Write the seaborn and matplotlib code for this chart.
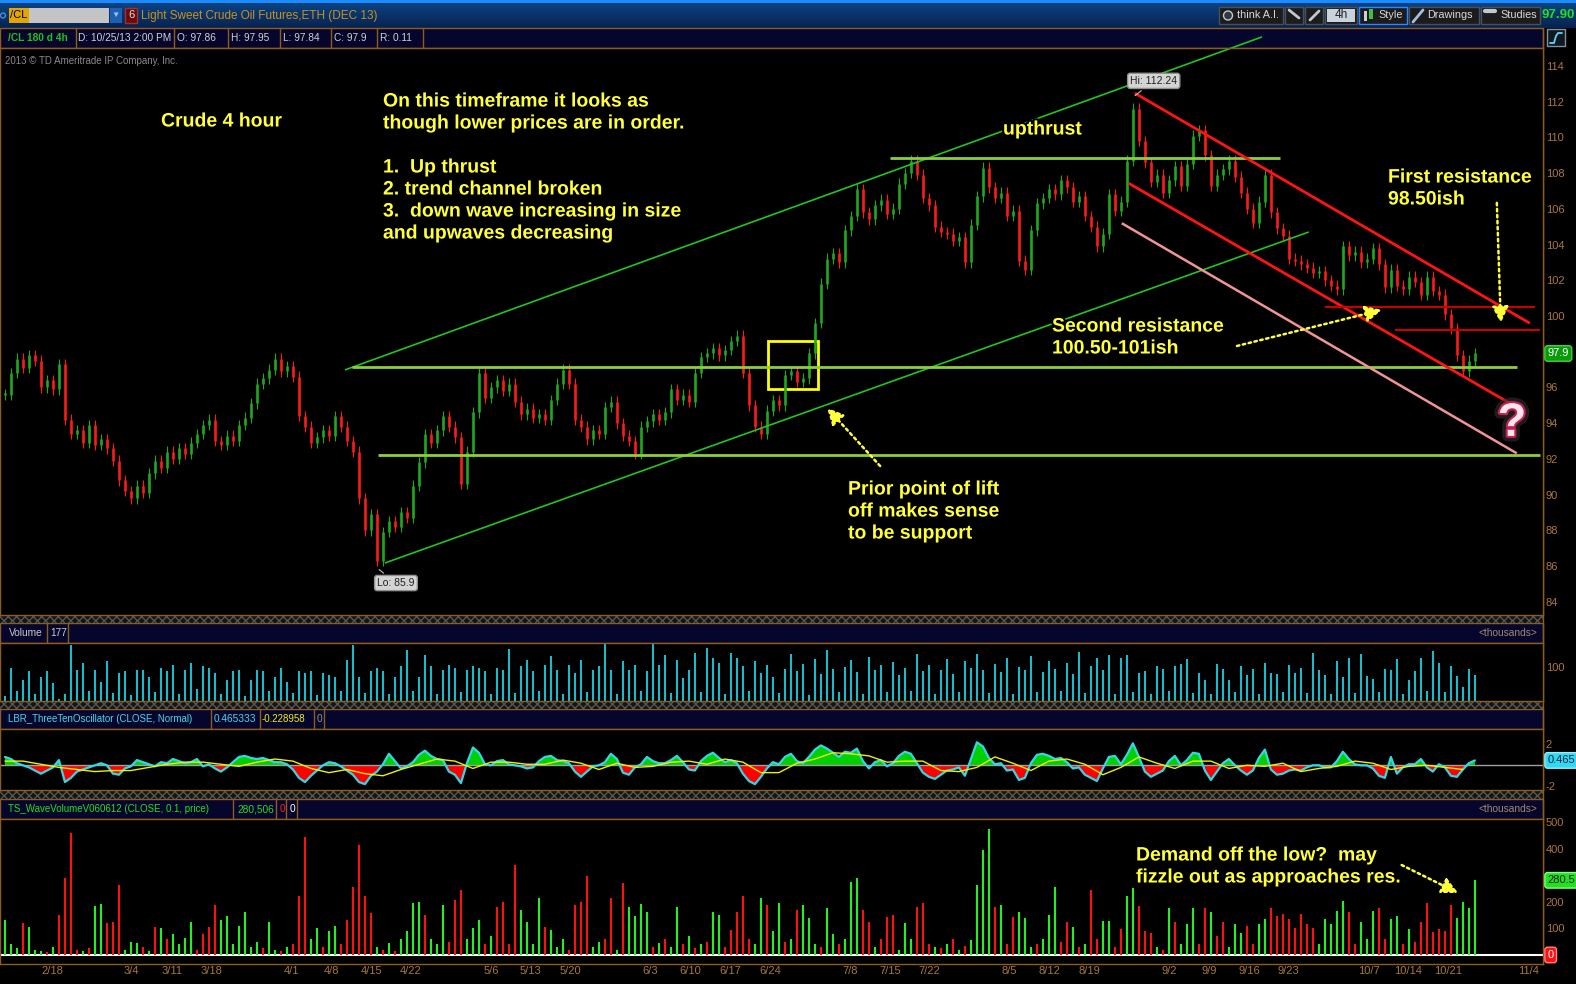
import numpy as np
import pandas as pd
import matplotlib
matplotlib.use("Agg")
import matplotlib.pyplot as plt
import matplotlib.patheffects as pe
from matplotlib.patches import Rectangle, Circle
from matplotlib.colors import LinearSegmentedColormap
import seaborn as sns

# ---- values (one bar ~ one trading day) ----
close = [
    95.6, 96.8, 97.6, 97.1, 97.8, 97.5, 96.0, 96.4, 95.9, 97.3,
    94.2, 93.4, 93.6, 92.9, 93.9, 92.8, 93.1, 92.6, 91.9, 90.8,
    90.2, 89.8, 90.5, 90.1, 91.2, 91.9, 91.5, 92.4, 92.0, 92.6,
    92.3, 92.9, 93.4, 93.9, 94.2, 93.0, 92.8, 93.3, 93.0, 93.9,
    94.3, 95.1, 96.2, 96.5, 97.0, 97.6, 96.9, 97.2, 96.6, 94.4,
    93.8, 92.9, 93.2, 93.6, 93.3, 94.4, 93.8, 93.0, 92.4, 89.8,
    88.0, 88.9, 86.3, 87.9, 88.5, 88.2, 89.0, 88.7, 90.5, 91.8,
    93.4, 92.9, 93.6, 94.4, 93.8, 93.2, 90.6, 92.4, 94.6, 96.8,
    95.4, 96.0, 96.4, 95.8, 96.2, 95.2, 94.5, 94.8, 94.3, 94.5,
    94.2, 95.3, 96.2, 97.0, 96.2, 94.2, 93.8, 93.1, 93.6, 93.4,
    94.9, 95.2, 94.0, 93.3, 93.0, 92.3, 93.8, 94.1, 94.5, 94.2,
    94.6, 95.9, 95.3, 95.6, 95.2, 96.8, 97.7, 97.9, 98.2, 97.8,
    98.1, 98.6, 98.9, 96.8, 95.0, 93.8, 93.4, 94.7, 95.3, 95.0,
    96.7, 96.9, 96.3, 96.5, 97.9, 99.6, 101.8, 103.2, 103.5, 103.0,
    104.8, 105.6, 107.1, 105.8, 105.4, 106.2, 106.5, 105.7, 106.0, 107.4,
    108.0, 108.7, 107.9, 106.6, 106.2, 105.0, 104.7, 104.6, 104.2, 104.4,
    103.0, 105.1, 106.7, 108.3, 107.2, 106.6, 106.9, 105.6, 105.9, 103.1,
    102.6, 104.8, 106.3, 106.6, 107.1, 106.8, 107.6, 107.2, 106.4, 106.7,
    105.6, 105.0, 103.9, 104.6, 106.8, 105.9, 106.4, 108.7, 111.6, 109.8,
    108.6, 107.5, 107.9, 106.9, 107.6, 108.4, 107.3, 108.5, 110.1, 110.4,
    109.0, 107.3, 107.9, 108.2, 108.7, 107.8, 106.9, 106.0, 105.2, 106.4,
    107.9, 105.8, 104.9, 104.5, 103.2, 103.1, 102.9, 102.7, 102.4, 102.5,
    102.0, 101.7, 101.5, 103.9, 103.4, 103.6, 103.0, 103.2, 103.8, 102.9,
    101.6, 102.6, 101.7, 101.5, 102.2, 101.9, 101.2, 102.2, 101.4, 101.2,
    100.1, 99.3, 97.8, 96.9, 97.5, 97.9,
]

# volume in thousands
volume = [
    15, 97, 30, 62, 87, 20, 72, 87, 52, 7, 22, 165, 92, 112, 30, 92, 57, 117, 25, 82, 87, 18, 92, 92, 72, 28, 97, 87, 107, 20,
    92, 112, 35, 102, 97, 82, 22, 62, 87, 92, 15, 62, 90, 87, 30, 72, 97, 57, 24, 87, 84, 87, 18, 82, 77, 72, 30, 122, 165, 72,
    25, 87, 97, 87, 20, 72, 102, 150, 30, 72, 137, 102, 22, 92, 107, 97, 28, 92, 102, 97, 87, 20, 97, 92, 152, 25, 102, 122, 87, 30,
    107, 132, 92, 22, 107, 82, 122, 26, 90, 102, 167, 92, 20, 117, 92, 107, 30, 87, 172, 107, 137, 24, 122, 67, 92, 142, 28, 157, 127, 112,
    20, 142, 127, 102, 30, 117, 82, 107, 72, 25, 95, 140, 88, 110, 18, 125, 80, 150, 95, 28, 100, 120, 85, 22, 130, 90, 105, 26, 115, 78,
    98, 30, 140, 88, 105, 22, 92, 125, 80, 27, 118, 97, 140, 90, 24, 110, 85, 128, 20, 100, 92, 132, 26, 85, 118, 95, 30, 112, 80, 145,
    25, 102, 128, 90, 135, 22, 128, 135, 26, 83, 88, 20, 103, 93, 30, 103, 108, 125, 24, 83, 63, 20, 108, 93, 63, 28, 103, 78, 95, 22,
    111, 83, 81, 27, 105, 83, 98, 25, 141, 91, 78, 20, 118, 70, 128, 24, 138, 73, 66, 28, 95, 91, 123, 22, 63, 88, 128, 30, 148, 113,
    26, 102, 75, 40, 95, 78,
]

# wave volume in thousands: positive = up wave (green), negative = down wave (red)
wave_volume = [
    130, 40, 25, -120, 105, 20, 15, -10, 30, -150,
    -290, -457, -20, 15, -25, 185, 190, -120, -125, -263,
    20, 50, 44, -30, 15, -106, 100, -60, 80, 40,
    65, 125, -20, -80, -105, -188, 130, 145, 40, 110,
    163, 30, 50, -25, 125, 20, -15, 30, -40, -220,
    -445, 60, 100, -30, 90, 110, -40, -130, -257, -415,
    -220, -156, 30, -20, 45, -15, 60, 90, 194, 200,
    -150, 60, 40, 188, -50, -207, -245, 60, 100, 130,
    -40, 70, -182, -200, -40, -338, 170, 125, 40, 213,
    -106, 94, 30, 60, -20, -188, -200, -295, 30, 50,
    -60, -213, 20, -270, 182, 145, 190, 163, -30, 45,
    -60, 30, 182, -40, 70, -25, 40, -50, 163, 150,
    -30, -94, -163, -220, -60, 40, 213, -188, 90, 194,
    -50, 60, -170, 188, 138, 40, -30, 175, 80, -40,
    60, 276, 288, -170, -125, 30, -60, -144, -150, 20,
    119, 60, -182, -194, -40, 30, -25, 40, -60, 20,
    -35, 56, 263, 395, 472, -182, 188, -40, -144, 163,
    138, 30, -40, 60, 150, 257, -50, -125, 106, -30,
    40, -245, -60, 128, 128, -30, -96, 223, 251, -185,
    -90, -84, 30, -20, 175, -122, 40, 115, 178, -40,
    -178, 160, -70, -122, 30, 115, 83, -108, -40, 115,
    134, -178, -147, -153, -134, -103, -153, -115, -103, 40,
    134, 115, 166, 204, -160, -40, 122, 60, 166, -178,
    -60, 134, 147, -40, 96, -50, -122, -195, -85, -96,
    -90, -187, 140, 200, 178, 280.5,
]

# LBR 3/10 oscillator (cyan) per bar
osc_310 = [
    0.8, 0.6, 0.2, 0.0, -0.2, -0.5, -0.8, -0.5, -0.2, 0.5,
    -1.6, -1.2, -0.6, -0.4, -0.2, 0.0, 0.2, 0.0, -0.8, -0.9,
    -0.3, -0.1, 0.5, 0.3, 0.1, -0.1, 0.3, 0.2, 0.6, 0.4,
    0.2, 0.3, 0.6, -0.1, 0.1, -0.3, -0.6, -0.2, 0.3, 0.8,
    0.9, 0.7, 0.6, 0.7, 0.5, 0.3, 0.3, 0.1, -0.4, -1.2,
    -1.6, -1.0, -0.5, 0.0, 0.3, 0.2, -0.1, -0.5, -0.9, -1.6,
    -1.8, -1.0, -0.6, 0.1, 1.1, 0.4, -0.3, -0.1, 0.3, 1.0,
    1.4, 0.9, 0.6, 0.5, -0.6, -0.9, -1.7, 0.2, 1.7, 1.2,
    0.1, 0.0, 0.4, 0.5, 0.1, 0.0, -0.1, -0.3, -0.2, 0.4,
    0.8, 0.9, 0.5, 0.4, 0.2, -0.6, -1.1, -0.6, -0.1, 0.0,
    0.3, 1.1, 0.6, -0.7, -0.9, -0.2, 0.1, 0.8, 0.4, 0.2,
    0.2, 0.5, 0.9, 0.3, -0.4, -0.5, 0.4, 0.9, 1.2, 0.7,
    0.3, 0.5, 0.2, -0.8, -1.5, -1.8, -1.1, -0.3, 0.3, 0.1,
    0.8, 1.1, 0.4, 0.2, 0.8, 1.5, 1.9, 1.6, 1.2, 0.8,
    1.3, 1.2, 1.6, 0.4, -0.3, 0.3, 0.5, -0.1, 0.2, 0.9,
    1.3, 1.1, 0.2, -0.7, -1.1, -1.3, -0.9, -0.5, -0.4, -0.2,
    -1.0, 0.6, 2.2, 1.8, 0.7, 0.1, 0.2, -0.5, -0.4, -1.4,
    -1.2, 0.2, 1.0, 1.1, 0.9, 0.6, 0.7, 0.3, -0.3, -0.2,
    -0.9, -1.2, -1.5, -0.3, 0.8, 0.9, 0.1, 1.0, 2.1, 0.8,
    -0.6, -1.1, -0.8, -0.5, 0.4, 0.9, 0.0, 0.5, 1.2, 1.1,
    -0.5, -1.4, -0.6, 0.2, 0.6, 0.0, -0.5, -0.9, -0.5, 0.7,
    1.5, -0.4, -0.9, -0.8, -0.5, -0.4, -0.5, -0.2, 0.0, 0.0,
    -0.2, -0.2, 0.4, 1.3, 0.6, 0.1, 0.0, 0.0, -0.3, -1.0,
    -1.2, 0.8, -0.8, -0.2, 0.1, 0.1, 0.6, -0.2, -0.6, 0.1,
    -0.2, -1.0, -1.1, -0.4, 0.2, 0.465,
]

# yellow signal line, read every third bar
osc_signal = [
    0.4, 0.4, 0.1, -0.2, -0.4, -0.6, -0.5, -0.5, -0.2, 0.1,
    0.3, 0.3, 0.1, -0.1, 0.3, 0.6, 0.4, -0.3, -0.7, -0.4,
    -0.8, -1.0, -0.4, 0.1, 0.6, 0.4, -0.3, 0.3, 0.3, 0.1,
    0.1, 0.5, 0.2, -0.4, 0.2, -0.2, -0.1, 0.3, 0.4, 0.1,
    0.6, 0.3, -0.7, -0.7, 0.2, 0.6, 1.2, 1.1, 0.9, 0.3,
    0.4, 0.4, -0.5, -0.6, -0.2, 0.8, 0.2, -0.5, 0.4, 0.6,
    0.1, -0.9, -0.2, 0.8, 0.2, -0.3, 0.4, 0.4, -0.3, 0.0,
    -0.1, 0.2, -0.6, -0.3, -0.1, 0.4, 0.2, -0.4, -0.1, 0.0,
    -0.2, -0.4,
]

date_labels = ["2/18", "3/4", "3/11", "3/18", "4/1", "4/8", "4/15", "4/22", "5/6", "5/13",
               "5/20", "6/3", "6/10", "6/17", "6/24", "7/8", "7/15", "7/22", "8/5", "8/12",
               "8/19", "9/2", "9/9", "9/16", "9/23", "10/7", "10/14", "10/21", "11/4"]
price_ticks = [84, 86, 88, 90, 92, 94, 96, 100, 102, 104, 106, 108, 110, 112, 114]
wave_ticks = [100, 200, 400, 500]
hi_price = 112.24
lo_price = 85.9
last_price = 97.9
last_osc = 0.465
last_wave = 280.5

# time axis in days since 2/18/13
first_day, last_day = -8.25, 249.65
x_min, x_max = -9.12, 261.6

sns.set_theme(style="dark", rc={"axes.facecolor": "black", "figure.facecolor": "black"})
plt.rcParams['font.family'] = ['Liberation Sans', 'DejaVu Sans']

W, H = 1576, 984
BROWN = '#8c5c20'
NAVY = '#06062c'
TICK = '#a8783c'
YEL = '#ffff3a'
HDR = 7.3


def frac(l, t, r, b):
    return [l / W, 1 - b / H, (r - l) / W, (b - t) / H]


fig = plt.figure(figsize=(W / 100, H / 100), dpi=100)
fig.patch.set_facecolor('black')

# ---- window chrome, drawn in pixel coordinates ----
bg = fig.add_axes([0, 0, 1, 1], zorder=0)
grad = np.linspace(0, 1, 28).reshape(-1, 1)
bar_cmap = LinearSegmentedColormap.from_list('bar', ['#0e4688', '#072350'])
bg.imshow(grad, extent=(0, W, 28, 0), cmap=bar_cmap, aspect='auto', origin='upper')
bg.set_xlim(0, W)
bg.set_ylim(H, 0)
bg.axis('off')


def rect(x0, y0, x1, y1, fc, ec='none', lw=1.0, **kw):
    bg.add_patch(Rectangle((x0, y0), x1 - x0, y1 - y0, fc=fc, ec=ec, lw=lw, **kw))


def label(x, y, s, color='#d0d0d0', size=HDR, **kw):
    bg.text(x, y, s, color=color, fontsize=size, va='center', **kw)


rect(0, 0, W, 3, '#1a8cff')
bg.add_patch(Circle((3, 15.5), 2.5, fc='none', ec='#4a8ad0', lw=1))
rect(9, 8, 29, 23, '#e3a600')
label(10, 15.5, "/CL", color='black', size=8)
rect(29, 8, 109, 23, '#c4c4c4')
rect(110, 8, 122, 23, '#1f5fb0')
label(111.5, 15.5, "▼", color='#8fc8ff', size=6)
rect(125, 8, 137, 23, '#6a0a0a', ec='#a03030')
label(128, 15.5, "6", color='#e0e0e0', size=8)
label(141, 15.5, "Light Sweet Crude Oil Futures,ETH (DEC 13)", color='#c8921e', size=8.5)

buttons = [(1219, 1283, "think A.I.", 1237), (1285, 1303, "", 0), (1305, 1323, "", 0),
           (1325, 1357, "", 0), (1359, 1407, "Style", 1378), (1409, 1479, "Drawings", 1427),
           (1481, 1540, "Studies", 1500)]
for x0, x1, txt, tx in buttons:
    rect(x0, 7, x1, 24, '#1c1c1c', ec='#2f86ff' if txt == "Style" else '#4a4f58', lw=1)
    if txt:
        label(tx, 15.5, txt, color='#d8d8d8', size=7.8)
bg.add_patch(Circle((1228, 15.5), 4.5, fc='#303840', ec='#c0c8d0', lw=1))
rect(1327, 9, 1355, 22, '#c9d3dc')
label(1341, 15.5, "4h", color='#202020', size=8.5, ha='center')
rect(1364, 11, 1367, 21, '#d0d0d0')
rect(1369, 9, 1373, 19, '#40c040')
bg.plot([1413, 1423], [22, 10], color='#a0c0e0', lw=2)
bg.plot([1289, 1299], [10, 18], color='#c0c8d0', lw=2)
bg.plot([1310, 1319], [20, 11], color='#c0c8d0', lw=2)
bg.plot([1485, 1495], [11, 11], color='#c0c8d0', lw=3)
label(1542, 15.5, "97.90", color='#20e020', size=9.5, fontweight='bold')

# header row of the price panel
rect(0, 28, 1543, 48, NAVY, ec=BROWN)
for bx in [76, 174, 228, 280, 331, 377, 423]:
    bg.plot([bx, bx], [28, 48], color=BROWN, lw=1)
label(8, 38, "/CL 180 d 4h", color='#20c020', fontweight='bold')
for hx, htxt in [(78, "D: 10/25/13 2:00 PM"), (177, "O: 97.86"), (231, "H: 97.95"),
                 (283, "L: 97.84"), (334, "C: 97.9"), (380, "R: 0.11")]:
    label(hx, 38, htxt)
rect(1547, 29, 1565, 46, '#101820', ec='#8090a0')
bg.plot([1550, 1554, 1556, 1558, 1562], [43, 43, 36, 33, 33], color='#60d0ff', lw=1.3)

# study headers
rect(0, 623, 1543, 643, NAVY, ec=BROWN)
for bx in [47, 68]:
    bg.plot([bx, bx], [623, 643], color=BROWN, lw=1)
label(9, 633, "Volume", color='#c8c8c8')
label(50, 633, "177", color='#c8c8c8')
label(1537, 633, "<thousands>", color='#a08a70', ha='right')

rect(0, 709, 1543, 729, NAVY, ec=BROWN)
for bx in [211, 260, 314, 324]:
    bg.plot([bx, bx], [709, 729], color=BROWN, lw=1)
label(8, 719, "LBR_ThreeTenOscillator (CLOSE, Normal)", color='#40d8f0', size=7)
label(214, 719, "0.465333", color='#40d8f0')
label(262, 719, "-0.228958", color='#f0f000', size=7)
label(317, 719, "0", color='#909090')

rect(0, 799, 1543, 819, NAVY, ec=BROWN)
for bx in [233, 276, 286, 297]:
    bg.plot([bx, bx], [799, 819], color=BROWN, lw=1)
label(8, 809, "TS_WaveVolumeV060612 (CLOSE, 0.1, price)", color='#20e020', size=7)
label(237, 809, "280,506", color='#20e020')
label(280, 809, "0", color='#ff2020')
label(290, 809, "0", color='#ffffff')
label(1537, 809, "<thousands>", color='#a08a70', ha='right')

for y0, y1 in [(615, 623), (701, 709), (790, 799)]:
    rect(0, y0, 1543, y1, '#151515', ec='#555555', lw=0, hatch='xxxx')
bg.plot([1543, 1543], [28, 964], color=BROWN, lw=1)


# ---- data panels ----
def style_panel(ax, ylim, yticks):
    ax.set_facecolor('black')
    ax.set_xlim(x_min, x_max)
    ax.set_ylim(*ylim)
    ax.yaxis.tick_right()
    ax.set_yticks(yticks)
    ax.set_yticklabels([str(v) for v in yticks])
    ax.set_xticks([])
    ax.tick_params(axis='y', length=0, pad=2, labelsize=8, labelcolor=TICK)
    ax.grid(False)
    for s in ax.spines.values():
        s.set_color(BROWN)
        s.set_linewidth(1)


def tag(ax, y, txt, fc, tc, ec):
    ax.text(1.003, y, txt, transform=ax.get_yaxis_transform(), ha='left', va='center',
            fontsize=8, color=tc, clip_on=False,
            bbox=dict(boxstyle='round,pad=0.25', fc=fc, ec=ec, lw=1))


bar_x = np.linspace(first_day, last_day, len(close))
c = np.array(close)
o = np.r_[c[0], c[:-1]]
cols = np.where(c >= o, '#1fa81f', '#ff1a1a')
body_lo = np.minimum(o, c)
body_hi = np.maximum(o, c)

ax_p = fig.add_axes(frac(0, 48, 1543, 615), zorder=2)
style_panel(ax_p, (83.26, 115.0), price_ticks)
ax_p.vlines(bar_x, body_lo - 0.3, body_hi + 0.3, colors=cols, lw=0.8)
ax_p.vlines(bar_x, body_lo, np.maximum(body_hi, body_lo + 0.08), colors=cols, lw=1.9)

trend_lines = [
    ((51.4, 96.98), (212.3, 115.62), '#22c422', 1.2, False),
    ((58.4, 86.17), (220.5, 104.70), '#22c422', 1.2, True),
    ((52.6, 97.15), (257.0, 97.15), '#8ccf3c', 2.0, True),
    ((57.2, 92.22), (261.0, 92.22), '#8ccf3c', 2.0, True),
    ((147.0, 108.85), (215.4, 108.85), '#8ccf3c', 2.0, True),
    ((190.0, 112.47), (259.3, 99.59), '#ff1414', 2.0, True),
    ((188.9, 107.43), (256.3, 95.02), '#ff1414', 2.0, True),
    ((187.7, 105.19), (257.0, 92.31), '#f09494', 1.8, True),
    ((223.3, 100.51), (260.2, 100.51), '#c80000', 1.5, True),
    ((235.6, 99.22), (261.0, 99.22), '#c80000', 1.5, True),
]
for (x0, y0), (x1, y1), col, lw, clip in trend_lines:
    ax_p.plot([x0, x1], [y0, y1], color=col, lw=lw, clip_on=clip, solid_capstyle='butt')
ax_p.add_patch(Rectangle((125.6, 95.9), 8.8, 2.7, fill=False, ec='#ffff00', lw=2))

arrow_kw = dict(arrowstyle='-|>,head_length=0.7,head_width=0.35', color=YEL, lw=1.8,
                linestyle=(0, (1, 1.4)), mutation_scale=14, shrinkA=0, shrinkB=0)
for tail, head in [((145.3, 91.6), (136.0, 94.85)), ((207.9, 98.32), (233.3, 100.34)),
                   ((253.5, 106.33), (254.2, 99.61))]:
    ax_p.annotate("", xy=head, xytext=tail, arrowprops=arrow_kw)

imax = int(np.argmax(c))
imin = int(np.argmin(c))
box_kw = dict(boxstyle='round,pad=0.25', fc='#d4d4d4', ec='#909090')
ax_p.annotate(f"Hi: {hi_price}", xy=(bar_x[imax], hi_price), xytext=(193.3, 113.16),
              ha='center', va='center', fontsize=7.5, color='#202020', bbox=box_kw,
              arrowprops=dict(arrowstyle='-', color='#c0c0c0', lw=0.8))
ax_p.annotate(f"Lo: {lo_price}", xy=(bar_x[imin], lo_price), xytext=(60.35, 85.05),
              ha='center', va='center', fontsize=7.5, color='#202020', bbox=box_kw,
              arrowprops=dict(arrowstyle='-', color='#c0c0c0', lw=0.8))
tag(ax_p, last_price, f"{last_price}", '#0a9a0a', 'white', '#40d040')

# volume
ax_v = fig.add_axes(frac(0, 643, 1543, 701), zorder=2)
style_panel(ax_v, (0, 171), [100])
ax_v.vlines(bar_x, 0, volume, colors='#16e4f8', lw=1.2)

# 3/10 oscillator
osc = np.array(osc_310)
ax_o = fig.add_axes(frac(0, 729, 1543, 790), zorder=2)
style_panel(ax_o, (-2.36, 3.47), [-2, 2])
ax_o.axhline(0, color='#a0a0a0', lw=1)
ax_o.fill_between(bar_x, osc, 0, where=osc >= 0, interpolate=True, color='#00d000', lw=0)
ax_o.fill_between(bar_x, osc, 0, where=osc <= 0, interpolate=True, color='#ff0000', lw=0)
sns.lineplot(x=bar_x, y=osc, ax=ax_o, color='#30d8e8', lw=1.6)
sns.lineplot(x=bar_x[::3], y=osc_signal, ax=ax_o, color='#f0f000', lw=1.0)
ax_o.set_xlim(x_min, x_max)
ax_o.set_xticks([])
tag(ax_o, last_osc, f"{last_osc}", '#30d8f0', '#00204a', '#90f0ff')

# wave volume
wv = np.array(wave_volume)
ax_w = fig.add_axes(frac(0, 819, 1543, 964), zorder=2)
style_panel(ax_w, (-34, 511), wave_ticks)
ax_w.axhline(0, color='white', lw=1.5)
ax_w.vlines(bar_x, 0, np.abs(wv), colors=np.where(wv >= 0, '#22f022', '#ff1010'), lw=1.5)
base = pd.Timestamp("2013-02-18")
tick_days = [(pd.to_datetime(d + "/2013", format="%m/%d/%Y") - base).days for d in date_labels]
ax_w.set_xticks(tick_days)
ax_w.set_xticklabels(date_labels)
ax_w.tick_params(axis='x', length=0, pad=1.5, labelsize=8, labelcolor=TICK, labelbottom=True)
ax_w.annotate("", xy=(246.7, 233), xytext=(236.8, 338), arrowprops=arrow_kw)
tag(ax_w, last_wave, f"{last_wave}", '#22e022', '#002000', '#80ff80')
tag(ax_w, 0, "0", '#ff1010', 'white', '#ff8080')

# ---- yellow notes on top ----
ov = fig.add_axes([0, 0, 1, 1], zorder=20)
ov.set_xlim(0, W)
ov.set_ylim(H, 0)
ov.axis('off')
halo = [pe.withStroke(linewidth=3, foreground='black')]
notes = [
    (161, 122, ["Crude 4 hour"]),
    (383, 102, ["On this timeframe it looks as", "though lower prices are in order.", "",
                "1.  Up thrust", "2. trend channel broken", "3.  down wave increasing in size",
                "and upwaves decreasing"]),
    (1003, 130, ["upthrust"]),
    (1388, 178, ["First resistance", "98.50ish"]),
    (1052, 327, ["Second resistance", "100.50-101ish"]),
    (848, 490, ["Prior point of lift", "off makes sense", "to be support"]),
    (1136, 856, ["Demand off the low?  may", "fizzle out as approaches res."]),
]
for nx, ny, lines in notes:
    for k, line in enumerate(lines):
        ov.text(nx, ny + 22 * k, line, color=YEL, fontsize=14, fontweight='bold',
                ha='left', va='center', path_effects=halo)
ov.text(1512, 424, "?", color='#ffe4ee', fontsize=34, fontweight='bold', ha='center', va='center',
        path_effects=[pe.Stroke(linewidth=8, foreground='#303030', alpha=0.6),
                      pe.Stroke(linewidth=3, foreground='#c02050'), pe.Normal()])
ov.text(5, 61, "2013 © TD Ameritrade IP Company, Inc.", color='#8a8a8a', fontsize=7, va='center')

fig.savefig("out.png", dpi=100, facecolor='black')
